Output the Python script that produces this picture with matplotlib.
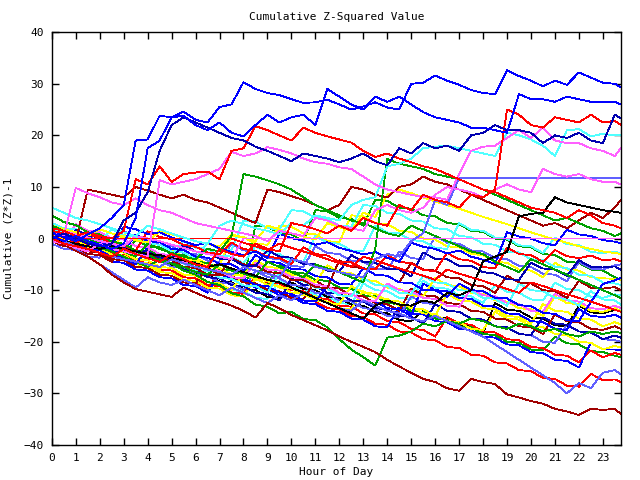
import matplotlib
matplotlib.use('Agg')
import matplotlib.pyplot as plt

# sample times (half-hour steps, last sample at 23:45)
hours = [h * 0.5 for h in range(48)] + [23.75]

# cumulative (z*z)-1 per series at each sample time
s01 = [1.0, 0.3, -0.5, 0.8, 2.0, 4.0, 6.5, 19.0, 19.2, 23.8, 23.5, 24.6,
       23.0, 22.5, 25.5, 26.0, 30.3, 29.0, 28.2, 27.8, 27.0, 26.3, 26.4, 26.9,
       26.0, 25.0, 25.6, 26.4, 25.4, 25.0, 30.0, 30.2, 31.6, 30.6, 29.8, 28.8,
       28.2, 28.0, 32.6, 31.5, 30.6, 29.5, 30.6, 29.8, 32.2, 31.2, 30.2, 30.0,
       29.3]
s02 = [0.5, -0.5, 0.5, -0.5, -1.2, -2.0, -1.0, 4.0, 17.5, 19.0, 23.5, 23.8,
       22.0, 21.0, 22.5, 20.5, 19.8, 22.0, 24.0, 22.5, 23.5, 24.0, 22.0, 29.0,
       27.5, 26.0, 25.0, 27.5, 26.5, 27.5, 26.0, 24.5, 23.5, 23.0, 22.5, 21.5,
       21.5, 21.0, 20.5, 28.0, 27.0, 27.0, 26.5, 27.5, 27.0, 26.5, 26.5, 26.5,
       26.0]
s03 = [0.0, 1.0, 0.0, -1.0, -1.5, -1.0, 3.5, 5.0, 9.0, 17.0, 22.0, 23.5,
       22.5, 21.5, 20.5, 19.5, 19.0, 17.8, 17.0, 16.0, 15.0, 16.5, 16.0, 15.5,
       14.8, 15.5, 16.5, 15.0, 14.2, 17.5, 16.5, 18.5, 17.5, 18.0, 17.0, 20.0,
       20.5, 22.0, 21.0, 21.0, 20.5, 18.5, 20.0, 19.5, 20.5, 19.0, 18.5, 24.0,
       23.3]
s04 = [2.0, 1.5, 0.5, 1.2, 0.5, 0.0, 1.5, 11.5, 10.5, 14.0, 11.0, 12.5,
       12.8, 13.0, 11.5, 17.0, 17.5, 21.8, 21.0, 20.0, 19.0, 21.5, 20.5, 19.8,
       19.2, 18.6, 17.0, 15.8, 16.5, 15.5, 14.8, 14.0, 13.5, 12.5, 11.5, 10.5,
       9.5, 9.0, 8.0, 7.0, 6.0, 5.5, 5.0, 4.0, 5.5, 4.5, 3.0, 2.5,
       2.0]
s05 = [0.0, -1.0, -1.5, -2.0, -2.8, -3.5, -2.0, -3.0, -3.8, -4.5, -3.0, -4.0,
       -5.0, -5.5, -2.0, -3.0, -3.5, -1.0, -2.0, -2.5, 3.0, 2.5, 1.8, 1.0,
       2.5, 1.5, 4.0, 3.0, 2.5, 6.5, 5.5, 8.5, 7.5, 7.0, 6.0, 8.5,
       8.0, 9.5, 25.0, 24.0, 22.0, 21.5, 23.5, 23.0, 22.5, 24.0, 22.5, 22.8,
       22.0]
s06 = [-0.5, -1.0, -1.8, -2.5, -1.0, -2.0, -2.5, -3.0, -3.5, 11.3, 10.5, 11.0,
       11.5, 12.5, 13.5, 16.8, 16.0, 16.5, 17.7, 17.2, 16.5, 15.5, 14.8, 14.5,
       13.8, 13.5, 12.0, 10.5, 9.5, 9.0, 8.5, 8.0, 8.0, 7.5, 12.5, 17.0,
       17.8, 18.0, 19.5, 21.0, 19.5, 21.5, 19.0, 18.5, 18.5, 17.5, 17.0, 16.0,
       17.5]
s07 = [1.0, 0.5, 9.8, 8.8, 8.0, 7.0, 6.5, 7.8, 6.5, 5.5, 5.0, 4.0,
       3.0, 2.5, 2.0, 1.5, 1.0, 0.5, -0.5, 1.5, 1.0, 0.5, 4.0, 3.5,
       2.5, 2.0, 1.5, 5.5, 6.5, 5.5, 5.0, 6.0, 8.5, 10.0, 9.5, 9.0,
       8.0, 9.5, 10.5, 9.5, 9.0, 13.5, 12.5, 12.0, 12.5, 11.5, 11.0, 11.0,
       10.5]
s08 = [6.0, 5.0, 4.0, 3.5, 2.8, 2.0, 1.2, 0.5, 2.5, 1.8, 1.0, 0.2,
       -0.5, -1.0, 2.5, 3.5, 2.8, 2.0, 1.5, 0.8, 3.0, 2.5, 4.5, 4.0,
       3.5, 6.5, 7.5, 8.0, 14.0, 14.5, 15.5, 17.5, 17.8, 18.0, 17.5, 17.0,
       16.5, 16.0, 20.5, 20.0, 19.2, 18.0, 16.0, 21.0, 21.2, 19.8, 20.3, 20.0,
       20.0]
s09 = [0.5, -0.5, -1.5, -2.0, -2.8, -3.5, -4.0, -4.5, -5.0, -5.5, -4.0, -4.8,
       -5.5, -6.0, -6.5, -7.0, -5.5, -6.2, -6.8, -7.5, -4.0, -4.5, -5.5, -6.0,
       -6.5, -7.0, -7.5, -4.0, -3.0, -3.5, -0.5, 1.0, 7.5, 6.5, 11.7, 11.7,
       11.7, 11.7, 11.7, 11.7, 11.7, 11.7, 11.7, 11.7, 11.7, 11.7, 11.7, 11.7,
       11.7]
s10 = [1.5, 1.0, 0.0, 0.0, 0.0, 0.0, 0.0, 0.0, 0.0, 0.0, 0.0, 0.0,
       0.0, 0.0, 0.0, 0.0, -0.8, -1.5, -2.2, -1.0, -1.8, -2.5, -3.2, -4.0,
       -4.8, -5.5, -3.5, -4.2, -5.0, -5.8, -6.5, -7.2, -8.0, -6.0, -6.8, -7.5,
       -8.2, -9.0, -9.8, -10.5, -8.5, -9.2, -10.0, -10.8, -11.5, -12.2, -13.0, -13.8,
       -14.2]
s11 = [2.0, 1.5, 0.8, 0.2, -0.5, -1.0, -1.5, 0.5, 0.0, -0.5, -1.2, -1.8,
       -2.5, -3.0, -3.5, -4.0, 0.0, 0.0, 0.0, 0.0, 0.0, 0.0, 0.0, 0.0,
       0.0, 0.0, 0.0, 0.0, 0.0, 0.0, 0.0, 0.0, 0.0, 0.0, 0.0, 0.0,
       0.0, 0.0, 0.0, 0.0, 0.0, 0.0, 0.0, 0.0, 0.0, 0.0, 0.0, 0.0,
       0.0]
s12 = [0.0, -0.5, -1.0, -1.5, -2.0, -1.5, -2.0, -2.5, -3.0, -3.2, -3.8, -4.2,
       -4.8, -5.5, -5.0, -5.8, -6.5, -7.2, -8.0, -8.5, -9.5, -10.5, -11.5, -12.5,
       -13.5, -14.5, -15.5, -13.0, -12.0, -12.8, -13.0, -12.0, -12.5, -10.5, -11.0, -10.0,
       -4.4, -3.5, -2.6, 4.3, 4.8, 5.0, 8.0, 7.0, 6.5, 6.0, 5.5, 5.2,
       5.0]
s13 = [0.0, -1.2, -2.4, -3.5, -5.0, -7.0, -8.5, -9.8, -10.3, -10.8, -11.3, -9.5,
       -10.5, -11.5, -12.2, -13.0, -14.0, -15.3, -12.5, -13.5, -14.8, -15.8, -16.8, -17.8,
       -19.0, -20.0, -21.0, -22.0, -23.5, -24.8, -26.0, -27.2, -27.8, -29.0, -29.5, -27.2,
       -27.8, -28.2, -30.2, -30.8, -31.5, -32.0, -33.0, -33.5, -34.2, -33.0, -33.2, -33.0,
       -34.0]
s14 = [0.5, -0.8, -2.0, -3.5, -5.0, -6.5, -8.0, -9.5, -7.5, -8.5, -9.0, -8.0,
       -9.0, -10.0, -11.0, -9.5, -10.5, -11.5, -12.5, -11.0, -12.0, -10.5, -11.5, -12.5,
       -13.5, -14.0, -12.0, -13.0, -14.0, -14.5, -15.5, -16.0, -15.0, -16.0, -17.0, -18.0,
       -19.0, -20.5, -22.0, -23.5, -25.0, -26.5, -28.0, -30.0, -28.0, -29.0, -26.0, -25.5,
       -26.3]
s15 = [4.5, 3.2, 2.6, 1.2, 0.8, -0.6, -1.0, -2.4, -3.0, -4.5, -4.8, -6.2,
       -7.0, -8.4, -9.0, -10.6, -11.2, -12.8, -13.2, -14.5, -14.2, -15.6, -15.8, -17.2,
       -19.5, -21.5, -23.0, -24.6, -19.2, -18.8, -18.0, -16.5, -17.0, -16.0, -16.5, -15.5,
       -16.0, -17.0, -17.5, -16.5, -17.0, -18.0, -17.5, -18.5, -19.0, -18.0, -18.5, -18.0,
       -18.3]
s16 = [2.5, 1.5, 0.8, 0.0, -1.0, -1.8, -2.5, -3.5, -1.0, -2.0, -2.8, -3.5,
       -4.0, -2.0, -2.5, 0.5, 12.5, 12.0, 11.3, 10.5, 9.5, 8.0, 6.5, 5.5,
       4.5, 3.5, 3.0, 2.0, 1.0, 0.5, 2.5, 1.5, 0.5, -0.5, -1.5, -2.5,
       -3.0, -4.5, -5.5, -6.5, -4.0, -5.0, -6.0, -7.0, -8.0, -9.0, -10.0, -11.0,
       -11.5]
s17 = [1.5, 1.0, 0.0, -0.8, -1.8, -2.5, -3.5, -4.5, -5.5, -4.0, -4.8, -5.5,
       -6.5, -7.0, -5.0, -6.0, -6.8, -7.5, -4.5, -5.5, -6.5, -7.5, -5.0, -5.8,
       -6.5, -7.5, -8.5, -2.0, 15.4, 14.5, 14.0, 13.5, 12.5, 12.0, 11.5, 10.5,
       9.5, 8.5, 7.5, 6.5, 5.5, 4.5, 3.5, 4.0, 3.0, 2.0, 1.5, 0.5,
       1.0]
s18 = [1.0, 0.2, -0.5, 9.5, 9.0, 8.5, 8.0, 10.0, 9.3, 8.5, 7.8, 8.5,
       7.5, 7.0, 6.0, 5.0, 4.0, 3.0, 9.5, 9.0, 8.2, 7.5, 6.5, 5.5,
       6.5, 10.0, 9.5, 8.5, 8.0, 10.0, 10.5, 12.0, 11.0, 10.5, 9.5, 8.5,
       7.5, 6.5, 5.5, 4.5, 3.5, 2.5, 3.0, 2.0, 3.5, 5.0, 4.0, 6.0,
       7.5]
s19 = [1.0, 0.6, -0.2, 0.3, -0.6, -1.4, 2.3, 1.8, 0.9, 1.2, 0.2, -0.5,
       -1.3, -0.8, -1.9, -2.6, -3.2, -2.5, -3.8, 0.9, 0.1, -0.4, -1.2, -0.7,
       -1.8, -2.4, -3.1, -2.6, -3.7, -4.5, -0.8, -1.6, -2.0, -2.9, -2.3, -3.5,
       -4.1, -4.9, 1.2, 0.4, 0.0, -0.9, -1.3, 1.7, 0.8, 0.5, -0.3, -0.6,
       -0.9]
s20 = [2.5, 1.8, 1.2, 0.5, 1.8, 1.0, 0.4, -0.3, -0.8, 1.5, 0.8, 0.2,
       -0.5, -1.0, -1.6, 0.8, 0.2, -0.5, 2.5, 1.8, 1.0, 0.4, -0.2, 3.0,
       2.2, 1.5, 5.0, 4.2, 8.5, 9.5, 8.8, 8.0, 7.2, 6.5, 5.8, 5.0,
       4.2, 3.5, 2.8, 2.0, 1.2, 0.5, -0.2, -0.8, -1.5, -2.0, -2.5, -2.8,
       -3.0]
s21 = [0.5, -0.4, -0.9, 0.9, 0.1, -0.9, -1.3, -2.4, 1.4, 0.3, -0.1, -1.2,
       -1.6, -2.7, -3.0, -0.8, -2.0, -2.4, -3.5, -3.8, -4.9, -1.7, -3.0, -3.3,
       -4.5, -4.6, -5.8, -6.0, -3.2, -4.5, -4.8, -6.1, -6.3, -2.8, -4.0, -4.3,
       -5.5, -5.8, -1.8, -3.0, -3.2, -4.5, -2.2, -3.4, -3.8, -3.3, -4.2, -4.0,
       -4.4]
s22 = [0.0, -1.0, 1.7, 0.6, 0.2, -1.0, -1.2, -2.3, -2.5, -3.7, -3.8, -1.2,
       -2.5, -2.7, -3.9, -4.0, -5.2, -5.4, -2.2, -3.5, -3.7, -4.9, -5.0, -6.2,
       -6.4, -3.2, -4.5, -4.7, -5.9, -6.0, -7.3, -2.7, -3.9, -4.0, -5.3, -5.3,
       -6.5, -6.8, -7.9, -8.0, -4.7, -5.8, -6.0, -7.2, -4.2, -5.5, -5.6, -5.4,
       -6.0]
s23 = [1.5, 0.6, 0.2, -0.9, -1.1, -2.3, -2.5, 0.8, -0.5, -0.7, -2.0, -2.2,
       -3.5, -3.7, -4.9, -5.0, -6.3, -3.2, -4.5, -4.7, -5.9, -6.0, -7.3, -7.5,
       -8.8, -8.9, -5.7, -7.0, -7.2, -8.5, -8.6, -9.9, -10.0, -11.3, -8.7, -10.0,
       -10.2, -11.5, -11.6, -12.9, -13.1, -14.4, -14.6, -15.8, -16.0, -12.3, -8.8, -8.1,
       -7.6]
s24 = [2.0, 1.0, 0.8, -0.5, -0.7, 1.8, 0.6, 0.3, -1.0, -1.2, -2.5, -2.7,
       -4.0, -0.8, -2.0, -2.2, 3.5, 3.3, 2.0, 1.8, 5.5, 5.3, 4.0, 3.8,
       2.5, 2.3, 6.5, 6.3, 5.0, 4.8, 3.5, 3.3, 2.0, 1.8, 0.5, 0.3,
       -1.0, -1.2, -2.5, -2.7, -4.0, -4.2, -5.5, -5.7, -7.0, -7.2, -8.5, -8.7,
       -9.0]
s25 = [-0.5, -1.5, -1.7, -3.0, -3.2, -4.5, -1.2, -2.5, -2.7, -4.0, -4.2, -5.5,
       -5.7, -7.0, -7.1, -3.7, -5.0, -5.2, -6.5, -6.7, -8.0, -8.1, -9.4, -9.6,
       -4.2, -5.5, -5.7, -7.0, -7.2, -8.5, -4.7, -6.0, -6.2, -7.5, -7.7, -9.0,
       -9.2, -10.5, -7.2, -8.5, -8.7, -10.0, -10.2, -11.5, -8.2, -9.5, -9.7, -9.4,
       -10.0]
s26 = [3.0, 2.0, 1.8, 0.5, 0.3, -1.0, -1.2, -2.5, -2.7, -4.0, -4.2, -4.8,
       -6.1, -6.3, -7.6, -7.8, -9.1, -9.2, -10.5, -6.7, -8.0, -8.2, -9.5, -9.7,
       -11.0, -11.2, -7.7, -9.0, -9.2, -10.5, -10.7, -7.2, -8.5, -8.7, -10.0, -10.2,
       -11.5, -11.7, -13.0, -8.7, -10.0, -10.2, -11.5, -11.7, -13.0, -10.2, -11.8, -12.0,
       -12.8]
s27 = [0.0, -1.0, 2.8, 1.5, 1.3, 0.0, -0.2, -1.5, -1.7, -3.0, -3.2, -4.5,
       -4.7, -6.0, -6.2, -7.5, -7.7, -4.7, -6.0, -6.2, -7.5, -7.7, -9.0, -9.2,
       -10.5, -10.7, -12.0, -12.2, -8.7, -10.0, -10.2, -11.5, -11.7, -13.0, -13.2, -9.7,
       -11.0, -11.2, -12.5, -12.7, -14.0, -14.2, -10.7, -12.0, -12.2, -13.5, -13.7, -13.0,
       -13.5]
s28 = [1.0, -0.1, -0.3, -1.6, -1.8, -3.1, -3.3, -4.6, -4.8, -6.1, -2.7, -4.0,
       -4.2, -5.5, -5.7, -7.0, -7.2, -4.2, -5.5, -5.7, -7.0, -7.2, -8.5, -5.2,
       -6.5, -6.7, -8.0, -8.2, -9.5, -9.7, -11.0, -11.2, -7.7, -9.0, -9.2, -10.5,
       -10.7, -12.0, -12.2, -13.5, -13.7, -15.0, -11.2, -12.5, -12.7, -14.0, -14.2, -13.5,
       -14.0]
s29 = [0.5, -0.5, -0.7, -2.0, -2.2, -3.5, -3.7, -5.0, -1.7, -3.0, -3.2, -4.5,
       -4.7, -6.0, -6.2, -7.5, -7.7, -9.0, -9.2, -10.5, -10.7, -12.0, -12.2, -9.2,
       -10.5, -10.7, -12.0, -12.2, -13.5, -13.7, -15.0, -8.7, -10.0, -10.2, -11.5, -11.7,
       -13.0, -13.2, -14.5, -14.7, -16.0, -16.2, -17.5, -17.7, -13.7, -15.0, -15.2, -14.8,
       -15.3]
s30 = [1.5, 0.5, 0.3, -1.0, -1.2, -2.5, -2.7, -4.0, -4.2, -5.5, -5.7, -7.0,
       -7.2, -8.5, -8.7, -10.0, -6.7, -8.0, -8.2, -9.5, -9.7, -11.0, -11.2, -12.5,
       -12.7, -9.2, -10.5, -10.7, -12.0, -12.2, -13.5, -13.7, -15.0, -10.7, -12.0, -12.2,
       -13.5, -13.7, -15.0, -15.2, -16.5, -12.7, -14.0, -14.2, -15.5, -15.7, -17.0, -16.2,
       -16.6]
s31 = [0.0, -1.0, -1.2, -2.5, -2.7, -4.0, -4.2, -5.5, -5.7, -7.0, -7.2, -8.5,
       -8.7, -5.7, -7.0, -7.2, -8.5, -8.7, -10.0, -10.2, -11.5, -11.7, -8.2, -9.5,
       -9.7, -11.0, -11.2, -12.5, -12.7, -14.0, -9.7, -11.0, -11.2, -12.5, -12.7, -14.0,
       -14.2, -15.5, -15.7, -17.0, -17.2, -18.5, -14.7, -16.0, -16.2, -17.5, -17.7, -17.0,
       -17.5]
s32 = [2.5, 1.5, 1.3, 0.0, -0.2, -1.5, -1.7, -3.0, -3.2, -4.5, -4.7, -6.0,
       -6.2, -7.5, -7.7, -9.0, -9.2, -10.5, -10.7, -12.0, -7.7, -9.0, -9.2, -10.5,
       -10.7, -12.0, -12.2, -13.5, -13.7, -15.0, -15.2, -16.5, -12.7, -14.0, -14.2, -15.5,
       -15.7, -17.0, -17.2, -18.5, -18.7, -15.2, -16.5, -16.7, -18.0, -18.2, -19.5, -18.8,
       -19.2]
s33 = [-1.0, -2.0, -2.2, -3.5, -3.7, -1.2, -2.5, -2.7, -4.0, -4.2, -5.5, -5.7,
       -7.0, -7.2, -8.5, -8.7, -10.0, -6.2, -7.5, -7.7, -9.0, -9.2, -10.5, -10.7,
       -12.0, -12.2, -13.5, -13.7, -15.0, -15.2, -11.2, -12.5, -12.7, -14.0, -14.2, -15.5,
       -15.7, -17.0, -17.2, -18.5, -18.7, -20.0, -20.2, -16.7, -18.0, -18.2, -19.5, -19.7,
       -20.0]
s34 = [0.5, -0.5, -0.7, -2.0, -2.2, -3.5, -3.7, -5.0, -5.2, -6.5, -6.7, -8.0,
       -8.2, -9.5, -9.7, -11.0, -11.2, -7.7, -9.0, -9.2, -10.5, -10.7, -12.0, -12.2,
       -13.5, -13.7, -10.2, -11.5, -11.7, -13.0, -13.2, -14.5, -14.7, -16.0, -16.2, -17.5,
       -17.7, -14.2, -15.5, -15.7, -17.0, -17.2, -18.5, -18.7, -20.0, -20.2, -21.5, -20.8,
       -21.1]
s35 = [-0.5, -1.5, -1.7, -3.0, -3.2, -4.5, -4.7, -6.0, -6.2, -7.5, -7.7, -9.0,
       -9.2, -10.5, -6.7, -8.0, -8.2, -9.5, -9.7, -11.0, -11.2, -12.5, -12.7, -14.0,
       -14.2, -15.5, -15.7, -17.0, -17.2, -13.2, -14.5, -14.7, -16.0, -16.2, -17.5, -17.7,
       -19.0, -19.2, -20.5, -20.7, -22.0, -22.2, -23.5, -23.7, -25.0, -20.2, -21.5, -21.5,
       -21.7]
s36 = [1.0, 0.0, -0.2, -1.5, -1.7, -3.0, -3.2, -4.5, -4.7, -6.0, -6.2, -7.5,
       -7.7, -9.0, -9.2, -10.5, -10.7, -7.2, -8.5, -8.7, -10.0, -10.2, -11.5, -11.7,
       -13.0, -13.2, -14.5, -14.7, -16.0, -16.2, -17.5, -17.7, -19.0, -15.2, -16.5, -16.7,
       -18.0, -18.2, -19.5, -19.7, -21.0, -21.2, -22.5, -22.7, -24.0, -21.7, -23.0, -22.2,
       -22.5]
s37 = [0.0, -1.0, -1.2, -2.5, -2.7, -4.0, -4.2, -5.5, -5.7, -7.0, -7.2, -8.5,
       -8.7, -10.0, -6.2, -7.5, -7.7, -9.0, -9.2, -10.5, -10.7, -12.0, -12.2, -13.5,
       -13.7, -15.0, -15.2, -16.5, -16.7, -18.0, -18.2, -19.5, -19.7, -21.0, -21.2, -22.5,
       -22.7, -24.0, -24.2, -25.5, -25.7, -27.0, -27.2, -28.5, -28.7, -26.2, -27.5, -27.3,
       -27.8]
s38 = [1.0, 0.0, -0.2, -1.5, -1.7, -3.0, -3.2, -0.2, -1.5, -1.7, -3.0, -3.2,
       -4.5, -4.7, -6.0, -6.2, -7.5, -7.7, -9.0, -5.2, -6.5, -6.7, -8.0, -8.2,
       -9.5, -9.7, -11.0, -11.2, -12.5, -12.7, -14.0, -14.2, -15.5, -15.7, -17.0, -17.2,
       -18.5, -18.7, -20.0, -20.2, -21.5, -21.7, -19.0, -20.3, -20.5, -21.8, -22.0, -22.7,
       -23.0]
s39 = [1.0, 0.0, -0.2, -1.5, 1.3, 0.0, -0.2, -1.5, -1.7, -3.0, -3.2, -0.5,
       -1.8, -2.0, -3.3, -3.5, -4.8, -1.5, -2.8, -3.0, -4.3, -4.5, 0.5, -0.8,
       -1.0, -2.3, -2.5, 2.5, 1.2, 1.0, -0.3, -0.5, -1.8, -2.0, 3.0, 1.7,
       1.5, 0.2, 0.0, -1.3, -1.5, -2.8, 0.2, -1.1, -1.3, -2.6, -2.8, -2.5,
       -3.0]
s40 = [2.0, 1.0, 0.8, -0.5, -0.7, -2.0, 0.8, -0.5, -0.7, -2.0, -2.2, -3.5,
       -3.7, -5.0, -5.2, 0.5, 0.3, -1.0, -1.2, 2.5, 2.3, 1.0, 0.8, -0.5,
       -0.7, 4.5, 4.3, 3.0, 2.8, 1.5, 1.3, 0.0, -0.2, -1.5, -1.7, -3.0,
       -3.2, -4.5, -4.7, -6.0, -6.2, -7.5, -4.7, -6.0, -6.2, -7.5, -7.7, -7.8,
       -8.0]
s41 = [0.0, 2.0, 0.7, 0.5, -0.8, -1.0, 1.5, 0.2, 0.0, -1.3, -1.5, -2.8,
       -3.0, -4.3, -4.5, -1.0, -2.3, -2.5, -3.8, -4.0, -5.3, -5.5, -1.5, -2.8,
       -3.0, -4.3, -4.5, -5.8, -6.0, -2.5, -3.8, -4.0, 0.5, -0.8, -1.0, -2.3,
       -2.5, -3.8, -4.0, -5.3, -5.5, -6.8, -7.0, -8.3, -4.5, -5.8, -6.0, -5.2,
       -5.0]
s42 = [0.5, -0.5, -0.7, -2.0, -2.2, -3.5, -3.7, -5.0, -2.0, -3.3, -3.5, -4.8,
       -5.0, -6.3, -6.5, -7.8, -8.0, 2.5, 2.3, 1.0, 0.8, -0.5, 5.5, 5.3,
       4.0, 3.8, 2.5, 7.5, 7.3, 6.0, 5.8, 4.5, 4.3, 3.0, 2.8, 1.5,
       1.3, 0.0, -0.2, -1.5, -1.7, -3.0, -3.2, -4.5, -4.7, -6.0, -6.2, -7.5,
       -8.0]
s43 = [0.5, -0.5, -0.7, -2.0, -2.2, -1.0, -2.3, -2.5, -3.8, -4.0, -5.3, -5.5,
       -6.8, -7.0, -8.3, -8.5, -9.8, -10.0, -11.3, -11.5, -8.5, -9.8, -10.0, -11.3,
       -11.5, -12.8, -13.0, -14.3, -14.5, -15.8, -16.0, -14.0, -15.3, -15.5, -16.8, -17.0,
       -18.3, -12.5, -13.8, -14.0, -15.3, -15.5, -16.8, -17.0, -13.0, -14.3, -14.5, -13.8,
       -14.0]
s44 = [1.5, 0.5, 0.3, -1.0, -1.2, -2.5, -2.7, -4.0, -4.2, -5.5, -5.7, -7.0,
       -7.2, -8.5, -8.7, -10.0, -10.2, -11.5, -11.7, -8.2, -9.5, -9.7, -11.0, -11.2,
       -12.5, -12.7, -8.7, -10.0, -10.2, -11.5, -11.7, -8.2, -9.5, -9.7, -11.0, -11.2,
       -12.5, -9.0, -10.3, -10.5, -11.8, -12.0, -8.5, -9.8, -10.0, -11.3, -11.5, -10.8,
       -11.0]

series = [s01, s02, s03, s04, s05, s06, s07, s08, s09, s10, s11,
          s12, s13, s14, s15, s16, s17, s18, s19, s20, s21, s22,
          s23, s24, s25, s26, s27, s28, s29, s30, s31, s32, s33,
          s34, s35, s36, s37, s38, s39, s40, s41, s42, s43, s44]

# gnuplot-ish palette
R, G, B, DB = '#ff0000', '#00a000', '#0000ff', '#0000b0'
M, C, DR, Y = '#ff60ff', '#50ffff', '#a00000', '#ffff00'
K, LB = '#000000', '#6060ff'
colors = [B, B, DB, R, R, M, M, C, LB, R, M,
          K, DR, LB, G, G, G, DR, B, Y, R, DB,
          B, C, DR, C, M, Y, B, Y, DR, DB, LB,
          Y, B, R, R, G, C, Y, LB, G, K, C]

plt.rcParams['font.family'] = 'DejaVu Sans Mono'

fig = plt.figure(figsize=(6.4, 4.8), dpi=100)
ax = fig.add_axes([0.081, 0.073, 0.889, 0.860])

# draw in reverse so the first series end up on top
for vals, col in reversed(list(zip(series, colors))):
    ax.plot(hours, vals, color=col, lw=0.6, antialiased=False)

ax.set_xlim(0, 23.75)
ax.set_ylim(-40, 40)
ax.set_xticks(range(24))
ax.set_yticks(range(-40, 41, 10))
ax.tick_params(direction='in', top=True, right=True, length=5, width=1,
               labelsize=8, pad=6)
for sp in ax.spines.values():
    sp.set_linewidth(1)

ax.set_title('Cumulative Z-Squared Value', fontsize=8, pad=9)
ax.set_xlabel('Hour of Day', fontsize=8, labelpad=3)
ax.set_ylabel('Cumulative (Z*Z)-1', fontsize=8, labelpad=7)

fig.savefig('out.png', dpi=100)
